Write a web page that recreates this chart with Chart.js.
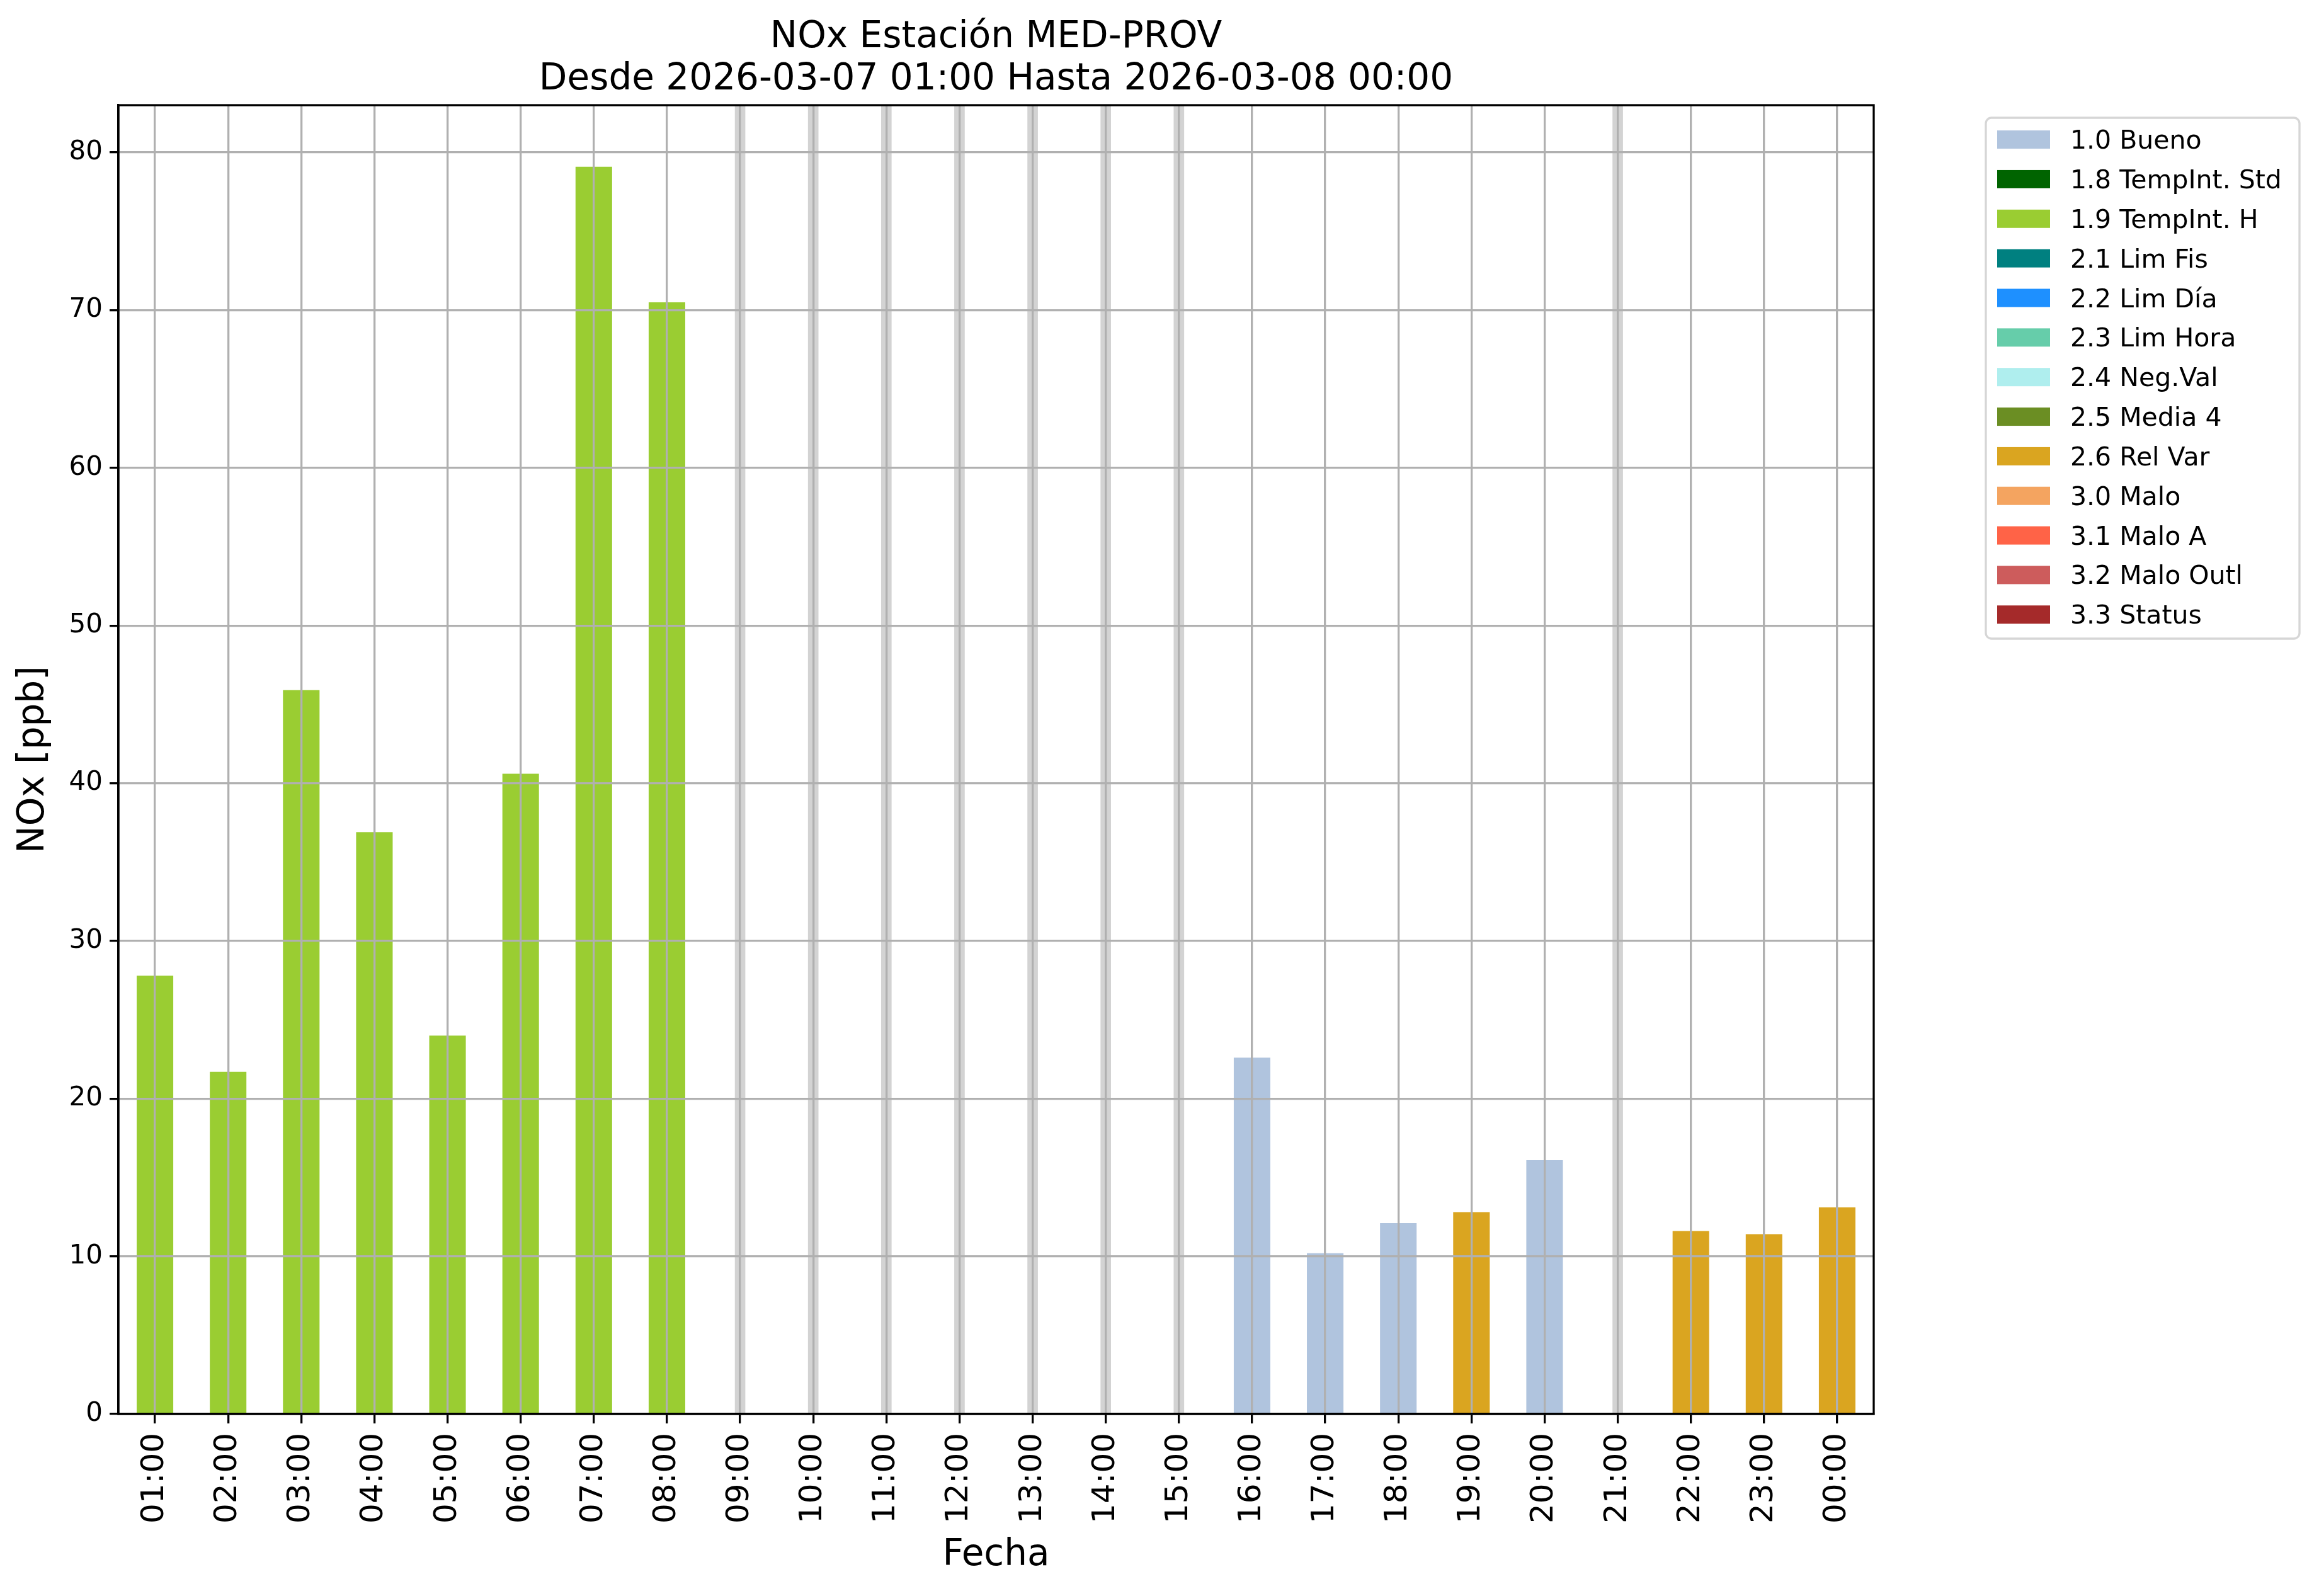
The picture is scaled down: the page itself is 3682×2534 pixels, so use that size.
<!DOCTYPE html>
<html>
<head>
<meta charset="utf-8">
<script src="https://cdn.jsdelivr.net/npm/chart.js@4.4.1/dist/chart.umd.min.js"></script>
<style>
  body { margin: 0; background: #fff; }
  #wrap { width: 3682px; height: 2534px; }
</style>
</head>
<body>
<div id="wrap"><canvas id="noxChart"></canvas></div>
<script>
/* Data */
const hours = ["01:00", "02:00", "03:00", "04:00", "05:00", "06:00", "07:00", "08:00",
  "09:00", "10:00", "11:00", "12:00", "13:00", "14:00", "15:00", "16:00",
  "17:00", "18:00", "19:00", "20:00", "21:00", "22:00", "23:00", "00:00"];
const noxValues = [27.8, 21.7, 45.9, 36.9, 24.0, 40.6, 79.1, 70.5,
  null, null, null, null, null, null, null, 22.6,
  10.2, 12.1, 12.8, 16.1, null, 11.6, 11.4, 13.1];
const hourFlags = ["1.9", "1.9", "1.9", "1.9", "1.9", "1.9", "1.9", "1.9",
  null, null, null, null, null, null, null, "1.0",
  "1.0", "1.0", "2.6", "1.0", null, "2.6", "2.6", "2.6"];

const flagCodes = ["1.0", "1.8", "1.9", "2.1", "2.2", "2.3", "2.4", "2.5", "2.6", "3.0", "3.1", "3.2", "3.3"];
const flagNames = ["1.0 Bueno", "1.8 TempInt. Std", "1.9 TempInt. H", "2.1 Lim Fis", "2.2 Lim Día",
  "2.3 Lim Hora", "2.4 Neg.Val", "2.5 Media 4", "2.6 Rel Var", "3.0 Malo", "3.1 Malo A",
  "3.2 Malo Outl", "3.3 Status"];
const flagColors = ["#b0c4de", "#006400", "#9acd32", "#008080", "#1e90ff", "#66cdaa", "#afeeee",
  "#6b8e23", "#daa520", "#f4a460", "#ff6347", "#cd5c5c", "#a52a2a"];

const titleLines = ["NOx Estación MED-PROV", "Desde 2026-03-07 01:00 Hasta 2026-03-08 00:00"];
const yMax = 83;

Chart.defaults.font.family = "'DejaVu Sans', sans-serif";
Chart.defaults.color = "#000";

// one dataset per flag, bars only where the hour has that flag
const datasets = flagCodes.map((code, k) => ({
  label: flagNames[k],
  data: noxValues.map((v, i) => (hourFlags[i] === code ? v : null)),
  backgroundColor: flagColors[k],
  grouped: false,
  barPercentage: 0.5,
  categoryPercentage: 1.0,
  inLegend: true,
}));

// grey marker lines where there is no data
datasets.push({
  label: "sin datos",
  data: noxValues.map((v) => (v === null ? [0, yMax] : null)),
  backgroundColor: "#d3d3d3",
  grouped: false,
  barThickness: 16,
  inLegend: false,
});

/* Title, frame and legend drawn like matplotlib */
const mplDecor = {
  id: "mplDecor",
  afterDraw(chart) {
    const c = chart.ctx;
    const a = chart.chartArea;
    c.save();
    // spines
    c.strokeStyle = "#000";
    c.lineWidth = 3.3;
    c.strokeRect(a.left, a.top, a.right - a.left, a.bottom - a.top);

    // title
    c.fillStyle = "#000";
    c.font = "58px 'DejaVu Sans'";
    c.textAlign = "center";
    c.textBaseline = "alphabetic";
    const cx = (a.left + a.right) / 2;
    c.fillText(titleLines[0], cx, 75);
    c.fillText(titleLines[1], cx, 142);

    // legend box
    const items = chart.data.datasets.filter((d) => d.inLegend);
    const bx = 3153, by = 187, bw = 498, bh = 827, r = 9;
    c.beginPath();
    c.moveTo(bx + r, by);
    c.arcTo(bx + bw, by, bx + bw, by + bh, r);
    c.arcTo(bx + bw, by + bh, bx, by + bh, r);
    c.arcTo(bx, by + bh, bx, by, r);
    c.arcTo(bx, by, bx + bw, by, r);
    c.closePath();
    c.fillStyle = "#fff";
    c.fill();
    c.strokeStyle = "#d6d6d6";
    c.lineWidth = 3.3;
    c.stroke();

    c.font = "41px 'DejaVu Sans'";
    c.textAlign = "left";
    items.forEach((d, i) => {
      const yc = 221.6 + i * 62.85;
      c.fillStyle = d.backgroundColor;
      c.fillRect(3171, yc - 14.5, 84, 29);
      c.fillStyle = "#000";
      c.fillText(d.label, 3287, yc + 14.5);
    });
    c.restore();
  },
};

const ctx = document.getElementById("noxChart").getContext("2d");
new Chart(ctx, {
  type: "bar",
  data: { labels: hours, datasets: datasets },
  plugins: [mplDecor],
  options: {
    responsive: true,
    maintainAspectRatio: false,
    devicePixelRatio: 1,
    animation: false,
    layout: { padding: { left: 0, right: 707, top: 167, bottom: 0 } },
    plugins: {
      legend: { display: false },
      title: { display: false },
      tooltip: { enabled: false },
    },
    scales: {
      x: {
        offset: true,
        afterFit: (s) => { s.height = 289; },
        grid: {
          z: 1,
          offset: false,
          color: "#b0b0b0",
          lineWidth: 3.3,
          tickColor: "#000",
          tickWidth: 3.3,
          tickLength: 15,
        },
        border: { color: "#000", width: 3.3, z: 2 },
        ticks: {
          autoSkip: false,
          minRotation: 90,
          maxRotation: 90,
          padding: 15,
          font: { size: 50 },
          color: "#000",
        },
        title: {
          display: true,
          text: "Fecha",
          font: { size: 58, lineHeight: 1.2 },
          color: "#000",
          padding: { top: 0, bottom: 29 },
        },
      },
      y: {
        min: 0,
        max: yMax,
        afterFit: (s) => { s.width = 188; },
        grid: {
          z: 1,
          color: "#b0b0b0",
          lineWidth: 3.3,
          tickColor: "#000",
          tickWidth: 3.3,
          tickLength: 14,
        },
        border: { color: "#000", width: 3.3, z: 2 },
        ticks: {
          stepSize: 10,
          includeBounds: false,
          padding: 11,
          font: { size: 42 },
          color: "#000",
        },
        title: {
          display: true,
          text: "NOx [ppb]",
          font: { size: 58, lineHeight: 1.2 },
          color: "#000",
          padding: { top: 19, bottom: 0 },
        },
      },
    },
  },
});
</script>
</body>
</html>
